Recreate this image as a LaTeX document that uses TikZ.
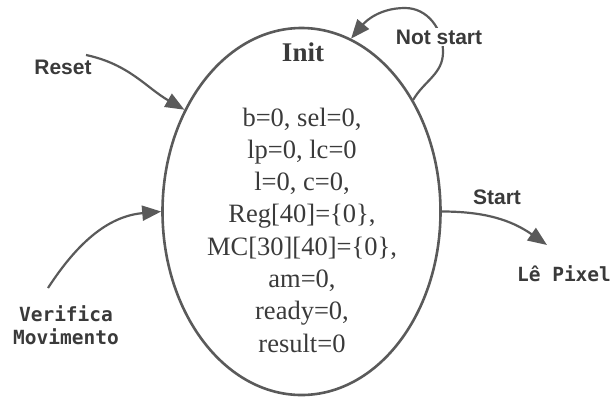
\documentclass[tikz,border=0pt]{standalone}
\usepackage{fontspec}
\setmainfont{Liberation Serif}
\newfontfamily\labelfont{Liberation Sans}
\newfontfamily\codefont{DejaVu Sans Mono}
\usetikzlibrary{arrows.meta,shapes.geometric}
\definecolor{edgegray}{HTML}{5A5A5A}
\definecolor{inkgray}{HTML}{3A3A3A}
\tikzset{
  x=1pt, y=1pt,
  state/.style={ellipse, draw=edgegray, line width=2.6pt, minimum width=278pt, minimum height=367pt, inner sep=0pt},
  trans/.style={draw=edgegray, line width=2.2pt, -{Triangle[length=19pt,width=15pt]}},
  evlabel/.style={font=\labelfont\bfseries\fontsize{21}{25}\selectfont, text=inkgray, inner sep=1pt},
  extlabel/.style={font=\codefont\bfseries\fontsize{19.5}{23}\selectfont, text=inkgray, align=center, inner sep=0pt},
}
\begin{document}
\begin{tikzpicture}
\useasboundingbox (0,0) rectangle (612,-399);

% the initial state
\node[state] (init) at (301.5,-211.5) {};
\node[font=\bfseries\fontsize{27}{31}\selectfont, text=inkgray] (title) at (303,-52) {Init};
\node[font=\fontsize{26.5}{32.3}\selectfont, text=inkgray, align=center] (body) at (302,-230)
  {b=0, sel=0,\\lp=0, lc=0\\l=0, c=0,\\Reg[40]=\{0\},\\MC[30][40]=\{0\},\\am=0,\\ready=0,\\result=0};

% neighbouring states and event labels
\coordinate (resetsrc) at (86,-55);
\coordinate (verisrc) at (48,-288);
\node[evlabel] (reset) at (63,-67) {Reset};
\node[evlabel] (start) at (497,-197) {Start};
\node[extlabel] (veri) at (66,-325) {Verifica\\Movimento};
\node[extlabel] (pixel) at (564,-274) {Lê Pixel};
\coordinate (pixeltip) at (547,-245);

% transitions
\draw[trans] (resetsrc) to[out=-12,in=150] (init.139);
\draw[trans] (verisrc) to[out=57,in=185] (init.180);
\draw[trans] (init.0) to[out=0,in=145] (pixeltip);
\draw[trans] (init.45) to[out=60,in=-90] (443,-52) to[out=90,in=0] (405,-8) to[out=180,in=50] (init.74);
\node[evlabel, fill=white, inner sep=2pt] (notstart) at (439,-37) {Not start};
\end{tikzpicture}
\end{document}
